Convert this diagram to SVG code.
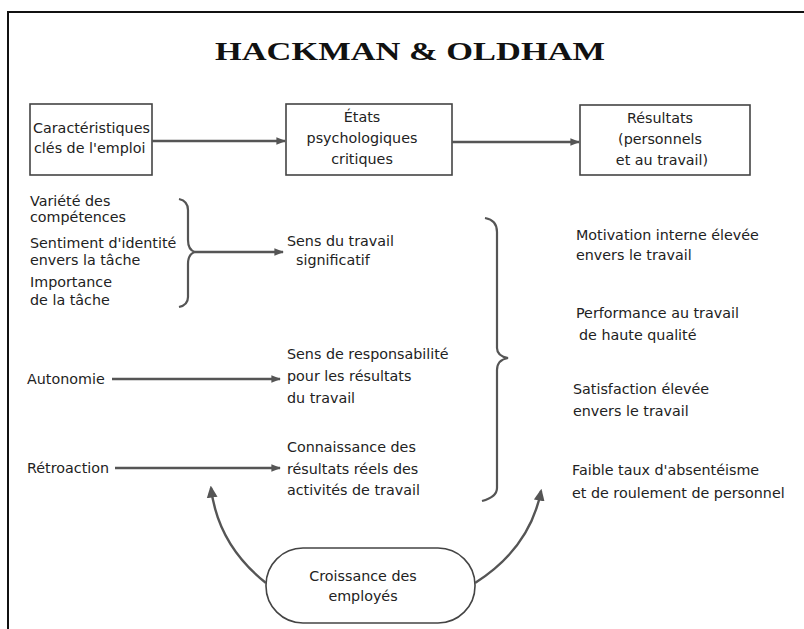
<svg xmlns="http://www.w3.org/2000/svg" width="804" height="629" viewBox="0 0 804 629">
<style>
text{font-family:"DejaVu Sans",Verdana,sans-serif;font-size:14.3px;fill:#222}
.title{font-family:"Liberation Serif","Times New Roman",serif;font-weight:bold;font-size:26px;fill:#111}
.box{fill:#fff;stroke:#444;stroke-width:1.6}
.ln{fill:none;stroke:#555;stroke-width:2.4}
.br{fill:none;stroke:#555;stroke-width:2.2}
.c{text-anchor:middle}
</style>
<defs>
<marker id="ah" viewBox="0 0 10 10" refX="9" refY="5" markerWidth="4" markerHeight="4" orient="auto" markerUnits="strokeWidth">
<path d="M0,1 L10,5 L0,9 Z" fill="#555"/>
</marker>
<marker id="ah2" viewBox="0 0 10 10" refX="8" refY="5" markerWidth="5" markerHeight="5" orient="auto" markerUnits="strokeWidth">
<path d="M0,0.5 L10,5 L0,9.5 Z" fill="#555"/>
</marker>
</defs>
<rect width="804" height="629" fill="#fff"/>
<path d="M8,629 V12 H804" fill="none" stroke="#111" stroke-width="2"/>
<text class="title c" x="410" y="60" textLength="390" lengthAdjust="spacingAndGlyphs">HACKMAN &amp; OLDHAM</text>

<g id="box-caracteristiques">
<rect class="box" x="30" y="104" width="122" height="71"/>
<text x="33" y="133">Caractéristiques</text>
<text x="34" y="153">clés de l'emploi</text>
</g>
<g id="box-etats">
<rect class="box" x="286" y="104" width="166" height="71"/>
<text class="c" x="362" y="122">États</text>
<text class="c" x="362" y="143">psychologiques</text>
<text class="c" x="362" y="164">critiques</text>
</g>
<g id="box-resultats">
<rect class="box" x="580" y="105" width="170" height="70"/>
<text class="c" x="660" y="123">Résultats</text>
<text class="c" x="660" y="144">(personnels</text>
<text class="c" x="662" y="165">et au travail)</text>
</g>

<g id="variete"><text x="30" y="206">Variété des</text><text x="30" y="222">compétences</text></g>
<g id="identite"><text x="30" y="248">Sentiment d'identité</text><text x="30" y="265">envers la tâche</text></g>
<g id="importance"><text x="30" y="287">Importance</text><text x="30" y="305">de la tâche</text></g>
<g id="autonomie"><text x="27" y="384">Autonomie</text></g>
<g id="retroaction"><text x="27" y="473">Rétroaction</text></g>

<g id="sens-travail"><text x="287" y="246">Sens du travail</text><text x="296" y="265">significatif</text></g>
<g id="sens-responsabilite"><text x="287" y="359">Sens de responsabilité</text><text x="287" y="381">pour les résultats</text><text x="287" y="403">du travail</text></g>
<g id="connaissance"><text x="287" y="452">Connaissance des</text><text x="287" y="474">résultats réels des</text><text x="287" y="495">activités de travail</text></g>

<g id="motivation"><text x="576" y="240">Motivation interne élevée</text><text x="576" y="260">envers le travail</text></g>
<g id="performance"><text x="576" y="318">Performance au travail</text><text x="579" y="340">de haute qualité</text></g>
<g id="satisfaction"><text x="573" y="394">Satisfaction élevée</text><text x="573" y="416">envers le travail</text></g>
<g id="absenteisme"><text x="572" y="475">Faible taux d'absentéisme</text><text x="572" y="498">et de roulement de personnel</text></g>

<g id="croissance">
<rect class="box" x="266" y="548" width="209" height="75" rx="37" ry="37" stroke-width="2"/>
<text class="c" x="363" y="581">Croissance des</text>
<text class="c" x="363" y="601">employés</text>
</g>

<g id="connectors">
<line class="ln" x1="152" y1="141" x2="285" y2="141" marker-end="url(#ah)"/>
<line class="ln" x1="452" y1="142" x2="579" y2="142" marker-end="url(#ah)"/>
<path class="br" d="M179,199 Q188,201 188,210 V240 Q188,250 195,252 Q188,254 188,264 V297 Q188,305 179,307"/>
<line class="ln" x1="195" y1="252" x2="283" y2="252" marker-end="url(#ah)"/>
<line class="ln" x1="112" y1="379" x2="280" y2="379" marker-end="url(#ah)"/>
<line class="ln" x1="115" y1="468" x2="280" y2="468" marker-end="url(#ah)"/>
<path class="br" d="M485,218 Q497,220 497,232 V348 Q497,356 508,358 Q497,360 497,370 V488 Q497,497 482,501"/>
<path class="ln" d="M266,583 Q218,545 211,488" marker-end="url(#ah2)"/>
<path class="ln" d="M475,583 Q530,548 541,491" marker-end="url(#ah2)"/>
</g>
</svg>
